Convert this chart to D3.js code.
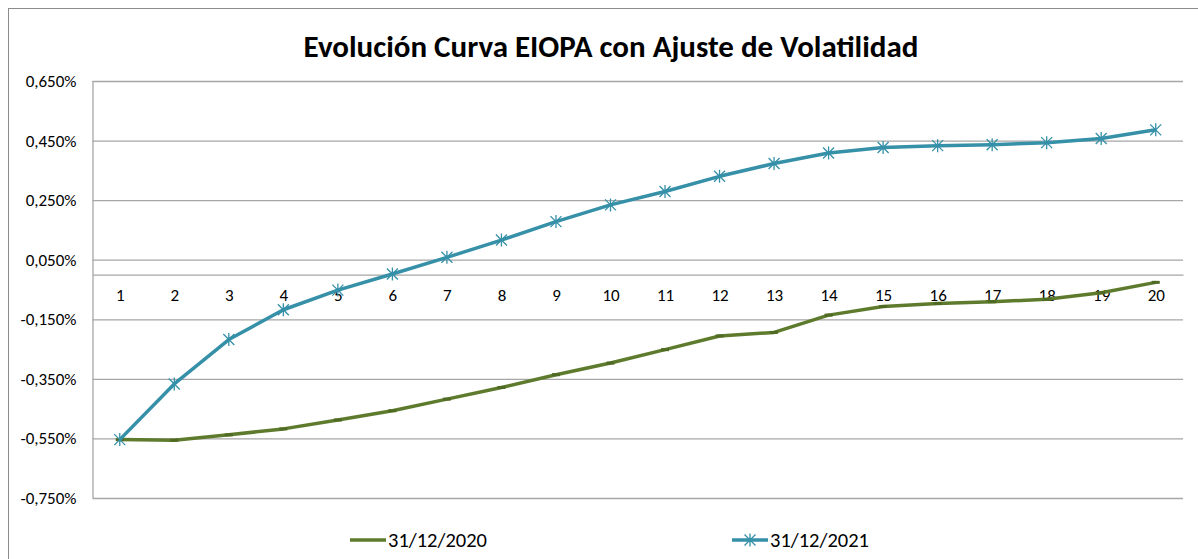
<!DOCTYPE html>
<html>
<head>
<meta charset="utf-8">
<script src="https://cdn.jsdelivr.net/npm/d3@7"></script>
<style>
  html, body { margin: 0; padding: 0; background: #fff; }
  svg { display: block; }
  text { font-family: Carlito, Calibri, "Open Sans", sans-serif; fill: #000; }
</style>
</head>
<body>
<svg id="chart" width="1198" height="559"></svg>
<script>
const title = "Evolución Curva EIOPA con Ajuste de Volatilidad";
const categories = [1, 2, 3, 4, 5, 6, 7, 8, 9, 10, 11, 12, 13, 14, 15, 16, 17, 18, 19, 20];
const seriesNames = ["31/12/2020", "31/12/2021"];
const s2020 = [-0.554, -0.556, -0.538, -0.518, -0.488, -0.457, -0.418, -0.379, -0.336, -0.297,
               -0.252, -0.206, -0.194, -0.136, -0.107, -0.097, -0.091, -0.083, -0.061, -0.026];
const s2021 = [-0.554, -0.367, -0.218, -0.118, -0.052, 0.002, 0.058, 0.116, 0.178, 0.234,
               0.279, 0.330, 0.373, 0.408, 0.427, 0.433, 0.436, 0.443, 0.457, 0.486];
const yTicks = [0.65, 0.45, 0.25, 0.05, -0.15, -0.35, -0.55, -0.75];

const colors = { s2020: "#5E7B2D", s2021: "#3590A8" };
const gridColor = "#A6A6A6";

const svg = d3.select("#chart");
const plot = { left: 92.5, right: 1183, top: 81, bottom: 498 };

// outer chart border
svg.append("rect")
  .attr("x", 8.5).attr("y", 8.5)
  .attr("width", 1198).attr("height", 600)
  .attr("fill", "none").attr("stroke", "#8C8C8C").attr("stroke-width", 1);

// title
const t = svg.append("text")
  .attr("x", 611).attr("y", 57)
  .attr("text-anchor", "middle")
  .style("font-weight", "bold")
  .style("font-size", "24px")
  .text(title);
const tw = t.node().getComputedTextLength();
t.style("font-size", (24 * 615 / tw) + "px");

const x = d3.scalePoint().domain(categories).range([plot.left, plot.right]).padding(0.5);
const y = d3.scaleLinear().domain([-0.75, 0.65]).range([plot.bottom, plot.top]);

const fmt = v => d3.format(".3f")(v).replace("−", "-").replace(".", ",") + "%";

// y axis with gridlines
const yAxis = svg.append("g")
  .attr("transform", `translate(${plot.left},0)`)
  .call(d3.axisLeft(y).tickValues(yTicks).tickFormat(fmt)
        .tickSize(-(plot.right - plot.left)).tickPadding(16));
yAxis.select(".domain").attr("stroke", gridColor).attr("stroke-width", 1.3)
  .attr("d", `M0.5,${plot.top}V${plot.bottom}`);
yAxis.selectAll(".tick line").attr("stroke", gridColor).attr("stroke-width", 1.3);
yAxis.selectAll(".tick text").style("font-size", "17px").attr("fill", "#000");

// x axis at zero
const xAxis = svg.append("g")
  .attr("transform", `translate(0,${y(0)})`)
  .call(d3.axisBottom(x).tickSize(0).tickPadding(14));
xAxis.select(".domain").attr("stroke", gridColor).attr("stroke-width", 1.3);
xAxis.selectAll(".tick text").style("font-size", "17px").attr("fill", "#000");

const line = d3.line().x((d, i) => x(categories[i])).y(d => y(d));

// series 2020
svg.append("path").datum(s2020)
  .attr("d", line).attr("fill", "none")
  .attr("stroke", colors.s2020).attr("stroke-width", 3.5)
  .attr("stroke-linejoin", "round");
svg.append("g").selectAll("rect").data(s2020).join("rect")
  .attr("x", (d, i) => x(categories[i]) - 4).attr("y", d => y(d) - 1.5)
  .attr("width", 8).attr("height", 3).attr("fill", "#4F6A22");

// series 2021
const star = "M0,-6.5V6.5M-5.5,-5.5L5.5,5.5M-5.5,5.5L5.5,-5.5";
svg.append("path").datum(s2021)
  .attr("d", line).attr("fill", "none")
  .attr("stroke", colors.s2021).attr("stroke-width", 3.5)
  .attr("stroke-linejoin", "round");
svg.append("g").selectAll("path").data(s2021).join("path")
  .attr("transform", (d, i) => `translate(${x(categories[i])},${y(d)})`)
  .attr("d", star).attr("fill", "none")
  .attr("stroke", colors.s2021).attr("stroke-width", 1.3);

// legend
const legendY = 540;
const leg = [
  { name: seriesNames[0], color: colors.s2020, x: 350, marker: null },
  { name: seriesNames[1], color: colors.s2021, x: 732, marker: star }
];
leg.forEach(l => {
  svg.append("line").attr("x1", l.x).attr("x2", l.x + 36)
    .attr("y1", legendY).attr("y2", legendY)
    .attr("stroke", l.color).attr("stroke-width", 3.5);
  if (l.marker) {
    svg.append("path").attr("transform", `translate(${l.x + 18},${legendY})`)
      .attr("d", l.marker).attr("fill", "none")
      .attr("stroke", l.color).attr("stroke-width", 1.3);
  }
  svg.append("text").attr("x", l.x + 38).attr("y", legendY)
    .attr("dy", "0.35em").style("font-size", "20.5px").text(l.name);
});
</script>
</body>
</html>
